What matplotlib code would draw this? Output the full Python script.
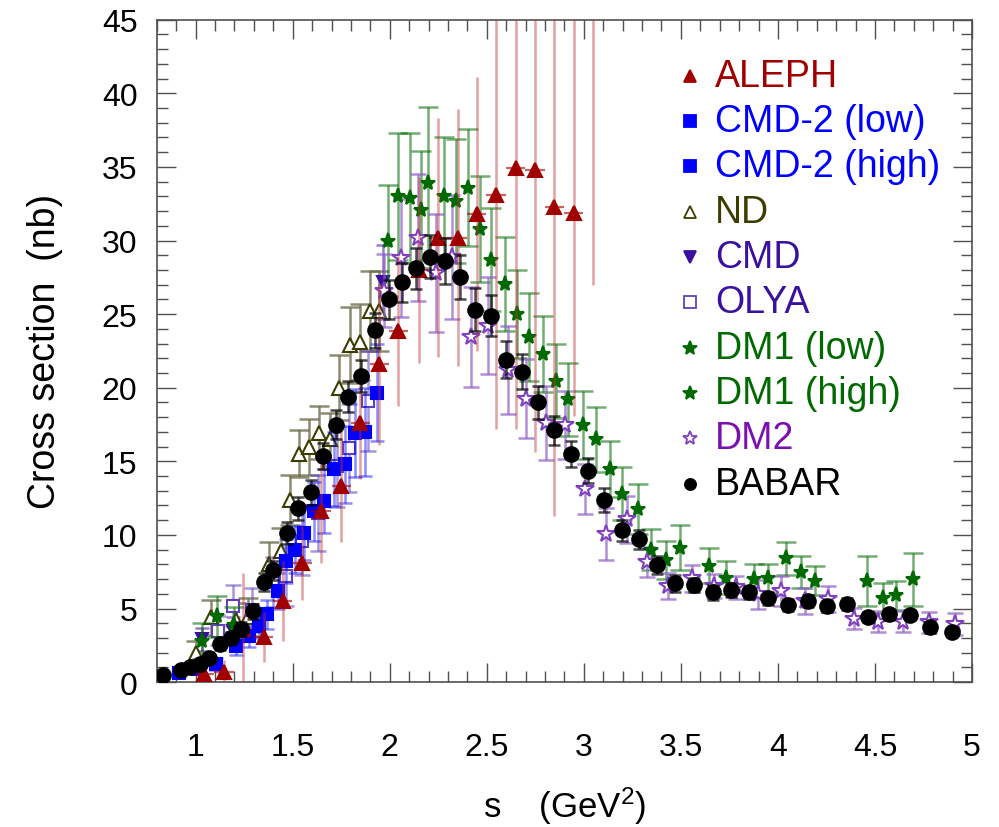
import matplotlib
matplotlib.use('Agg')
import matplotlib.pyplot as plt
from matplotlib.ticker import MultipleLocator, FuncFormatter

plt.rcParams['font.family'] = ['Liberation Sans', 'DejaVu Sans']
plt.rcParams['mathtext.default'] = 'regular'

# ---- data (s in GeV^2, cross section in nb) ----
babar_s = [0.83, 0.924, 0.97, 1.02, 1.07, 1.126, 1.18, 1.236, 1.293, 1.35,
           1.40, 1.47, 1.527, 1.594, 1.654, 1.723, 1.786, 1.852, 1.924, 1.994,
           2.063, 2.135, 2.207, 2.285, 2.362, 2.44, 2.52, 2.60, 2.68, 2.764,
           2.846, 2.934, 3.02, 3.106, 3.195, 3.286, 3.377, 3.47, 3.566, 3.664,
           3.757, 3.853, 3.95, 4.054, 4.154, 4.254, 4.357, 4.463, 4.57, 4.678,
           4.786, 4.896]
babar_xs = [0.48, 0.83, 1.04, 1.22, 1.63, 2.56, 2.99, 3.6, 4.82, 6.8,
            7.6, 10.1, 11.8, 12.9, 15.36, 17.5, 19.4, 20.8, 23.9, 26.0,
            27.15, 28.1, 28.9, 28.6, 27.5, 25.3, 24.9, 21.9, 21.1, 19.0,
            17.1, 15.5, 14.35, 12.36, 10.3, 9.7, 7.94, 6.7, 6.6, 6.1,
            6.25, 6.1, 5.7, 5.25, 5.5, 5.14, 5.3, 4.43, 4.6, 4.57,
            3.71, 3.37]
babar_err = [0.2, 0.25, 0.25, 0.25, 0.3, 0.35, 0.4, 0.45, 0.5, 0.6,
             0.65, 0.75, 0.8, 0.85, 0.9, 1.0, 1.05, 1.1, 1.2, 1.3,
             1.35, 1.4, 1.45, 1.55, 1.5, 1.45, 1.4, 1.25, 1.2, 1.1,
             1.0, 0.9, 0.85, 0.8, 0.7, 0.65, 0.6, 0.55, 0.5, 0.5,
             0.45, 0.45, 0.45, 0.4, 0.4, 0.4, 0.4, 0.35, 0.35, 0.35,
             0.35, 0.3]

aleph_s = [1.044, 1.147, 1.242, 1.35, 1.448, 1.547, 1.645, 1.75, 1.848, 1.946,
           2.045, 2.149, 2.25, 2.35, 2.448, 2.547, 2.649, 2.748, 2.848, 2.948,
           3.048]
aleph_xs = [0.54, 0.7, 3.6, 3.05, 5.5, 8.1, 11.6, 13.3, 17.6, 21.6,
            23.85, 28.0, 30.2, 30.2, 31.8, 33.1, 34.9, 34.8, 32.3, 31.9,
            47.0]
aleph_err = [0.6, 0.8, 3.8, 1.7, 2.7, 2.5, 3.5, 3.8, 3.8, 5.5,
             5.1, 6.3, 8.1, 8.7, 9.3, 15.9, 17.7, 19.2, 21.0, 13.8,
             20.0]
aleph_ds = 0.05

cmd2_low_s = [0.915, 1.01, 1.104, 1.207, 1.276]
cmd2_low_xs = [0.6, 0.9, 1.22, 2.47, 3.1]
cmd2_low_err = [0.2, 0.3, 0.4, 0.6, 0.7]

cmd2_high_s = [1.327, 1.37, 1.422, 1.465, 1.51, 1.56, 1.61, 1.66, 1.714,
               1.769, 1.82, 1.874, 1.934]
cmd2_high_xs = [3.8, 4.6, 6.2, 8.2, 9.0, 10.1, 11.6, 12.3, 14.46,
                14.8, 16.9, 17.0, 19.67]
cmd2_high_err = [0.8, 1.0, 1.2, 1.5, 1.6, 1.8, 2.0, 2.2, 2.5,
                 2.6, 3.0, 3.0, 3.3]

nd_s = [1.0, 1.078, 1.21, 1.27, 1.379, 1.44, 1.487, 1.533, 1.585, 1.637,
        1.694, 1.74, 1.795, 1.848, 1.898, 1.946]
nd_xs = [2.0, 4.4, 4.2, 4.4, 8.0, 8.9, 12.4, 15.5, 16.0, 16.95,
         16.5, 20.0, 22.9, 23.1, 25.2, 25.2]
nd_err = [0.8, 1.2, 1.2, 1.3, 1.5, 1.6, 1.7, 1.6, 1.9, 1.8,
          1.8, 2.2, 2.6, 2.6, 2.7, 2.7]

cmd_s = [1.035, 1.19, 1.963]
cmd_xs = [2.9, 3.5, 27.2]
cmd_err = [0.8, 0.9, 2.5]

olya_s = [1.113, 1.19, 1.29, 1.40, 1.465, 1.55, 1.63, 1.73, 1.79, 1.886]
olya_xs = [3.5, 5.18, 4.9, 6.8, 7.2, 9.6, 11.5, 14.7, 15.9, 19.1]
olya_err = [1.0, 1.4, 1.5, 1.7, 2.0, 2.3, 2.6, 2.8, 3.0, 3.4]

dm1_low_s = [1.035, 1.109, 1.198]
dm1_low_xs = [2.8, 4.46, 3.9]
dm1_low_err = [1.2, 1.4, 1.2]

dm1_high_s = [1.99, 2.044, 2.104, 2.16, 2.198, 2.28, 2.34, 2.405, 2.463, 2.52,
              2.594, 2.656, 2.72, 2.788, 2.857, 2.917, 2.994, 3.063, 3.137, 3.197,
              3.278, 3.346, 3.424, 3.497, 3.647, 3.733, 3.879, 3.948, 4.04, 4.12,
              4.19, 4.46, 4.54, 4.61, 4.695]
dm1_high_xs = [30.0, 33.0, 32.9, 32.1, 33.9, 33.0, 32.7, 33.6, 30.75, 28.7,
               27.07, 25.0, 23.45, 22.3, 20.45, 19.2, 17.45, 16.5, 14.46, 12.8,
               11.75, 9.0, 8.3, 9.14, 7.9, 7.1, 7.0, 7.04, 8.4, 7.5,
               6.9, 6.9, 5.7, 5.9, 7.0]
dm1_high_err = [3.8, 4.3, 4.4, 4.0, 5.2, 4.0, 4.2, 4.0, 3.6, 3.5,
                3.2, 3.0, 3.0, 2.6, 2.5, 2.5, 2.3, 2.2, 1.9, 1.8,
                1.7, 1.4, 1.3, 1.5, 1.2, 1.1, 1.0, 1.0, 1.15, 1.1,
                1.0, 1.7, 1.0, 1.0, 1.8]

dm2_s = [1.97, 2.058, 2.148, 2.237, 2.322, 2.417, 2.508, 2.61, 2.70, 2.805,
         2.905, 3.008, 3.114, 3.223, 3.326, 3.436, 3.556, 3.67, 3.785, 3.898,
         4.017, 4.137, 4.26, 4.39, 4.515, 4.644, 4.776, 4.91]
dm2_xs = [26.6, 28.8, 30.2, 27.8, 28.9, 23.45, 24.2, 21.2, 19.26, 17.6,
          17.45, 13.15, 10.05, 11.07, 8.17, 6.54, 7.04, 6.54, 6.43, 5.97,
          6.2, 5.52, 5.63, 4.32, 4.1, 4.1, 4.05, 3.94]
dm2_err = [2.5, 4.0, 4.3, 4.0, 4.2, 3.4, 3.3, 3.0, 2.7, 2.5,
           2.3, 1.7, 1.75, 1.6, 1.0, 0.9, 0.9, 0.8, 0.8, 1.0,
           1.0, 0.9, 0.9, 0.7, 0.7, 0.7, 0.7, 0.75]

RED = '#a00000'
BLUE = '#0000ff'
OLIVE = '#3c3c00'
INDIGO = '#3a10a0'
GREEN = '#006a00'
PURPLE = '#7a10b0'

fig = plt.figure(figsize=(9.99, 8.28), dpi=100)
ax = fig.add_axes([0.157, 0.175, 0.816, 0.800])


def series(s, xs, err, marker, color, ecolor, ms, filled=True, cap=5, ealpha=0.55, z=2):
    ax.errorbar(s, xs, yerr=err, fmt='none', ecolor=ecolor, alpha=ealpha,
                elinewidth=1.8, capsize=cap, capthick=1.8, zorder=z)
    ax.plot(s, xs, linestyle='none', marker=marker, ms=ms,
            mfc=color if filled else 'white', mec=color, mew=1.5, zorder=z + 0.5)


series(nd_s, nd_xs, nd_err, '^', OLIVE, '#707050', 10, filled=False, cap=7, ealpha=0.8, z=2)
series(cmd_s, cmd_xs, cmd_err, 'v', INDIGO, INDIGO, 8, cap=5, z=2)
series(olya_s, olya_xs, olya_err, 's', '#6040c0', '#6040c0', 9, filled=False, cap=6, z=2)
series(dm1_low_s, dm1_low_xs, dm1_low_err, '*', GREEN, GREEN, 11, cap=7, z=3)
series(dm1_high_s, dm1_high_xs, dm1_high_err, '*', GREEN, GREEN, 11, cap=7, z=3)
series(dm2_s, dm2_xs, dm2_err, '*', '#8040c0', '#9060c8', 13, filled=False, cap=6, ealpha=0.7, z=3)
series(cmd2_low_s, cmd2_low_xs, cmd2_low_err, 's', BLUE, BLUE, 9, cap=5, ealpha=0.45, z=4)
series(cmd2_high_s, cmd2_high_xs, cmd2_high_err, 's', BLUE, BLUE, 9, cap=5, ealpha=0.45, z=4)
ax.hlines(aleph_xs, [v - aleph_ds for v in aleph_s], [v + aleph_ds for v in aleph_s],
          colors=RED, linestyles=(0, (3, 3)), linewidth=1.6, alpha=0.6, zorder=5)
series(aleph_s, aleph_xs, aleph_err, '^', RED, '#c03030', 10, cap=0, ealpha=0.45, z=5)
series(babar_s, babar_xs, babar_err, 'o', 'black', 'black', 10.5, cap=4.5, ealpha=0.7, z=6)

ax.set_xlim(0.8, 5.0)
ax.set_ylim(0, 45)
ax.xaxis.set_major_locator(MultipleLocator(0.5))
ax.xaxis.set_minor_locator(MultipleLocator(0.1))
ax.yaxis.set_major_locator(MultipleLocator(5))
ax.yaxis.set_minor_locator(MultipleLocator(1))
ax.xaxis.set_major_formatter(FuncFormatter(lambda v, p: '%g' % v))
ax.tick_params(which='both', direction='in', top=True, right=True,
               color='#505050', width=1.0)
ax.tick_params(which='major', length=14)
ax.tick_params(which='minor', length=8)
ax.tick_params(axis='y', labelsize=23, pad=14)
ax.tick_params(axis='x', labelsize=23, pad=36)
for sp in ax.spines.values():
    sp.set_color('#505050')
    sp.set_linewidth(1.2)

ax.set_ylabel('Cross section  (nb)', fontsize=27, labelpad=28)
ax.set_xlabel('s    (GeV$^{2}$)', fontsize=25, labelpad=16)

# legend drawn as markers + coloured labels
leg_labels = ['ALEPH', 'CMD-2 (low)', 'CMD-2 (high)', 'ND', 'CMD', 'OLYA',
              'DM1 (low)', 'DM1 (high)', 'DM2', 'BABAR']
leg_markers = ['^', 's', 's', '^', 'v', 's', '*', '*', '*', 'o']
leg_colors = [RED, BLUE, BLUE, OLIVE, INDIGO, '#6040c0', GREEN, GREEN, '#8040c0', 'black']
leg_text_colors = [RED, BLUE, BLUE, OLIVE, INDIGO, INDIGO, GREEN, GREEN, PURPLE, 'black']
leg_filled = [True, True, True, False, True, False, True, True, False, True]
for i, lab in enumerate(leg_labels):
    yy = (683 - (77 + 45.3 * i)) / 662.0
    ax.plot([0.654], [yy], transform=ax.transAxes, linestyle='none',
            marker=leg_markers[i], ms=8 if leg_markers[i] != '*' else 10,
            mfc=leg_colors[i] if leg_filled[i] else 'white', mec=leg_colors[i],
            mew=1.3, clip_on=False, zorder=10)
    ax.text(0.685, yy, lab, transform=ax.transAxes, color=leg_text_colors[i],
            fontsize=27, va='center', ha='left', zorder=10)

fig.savefig('out.png', dpi=100)
